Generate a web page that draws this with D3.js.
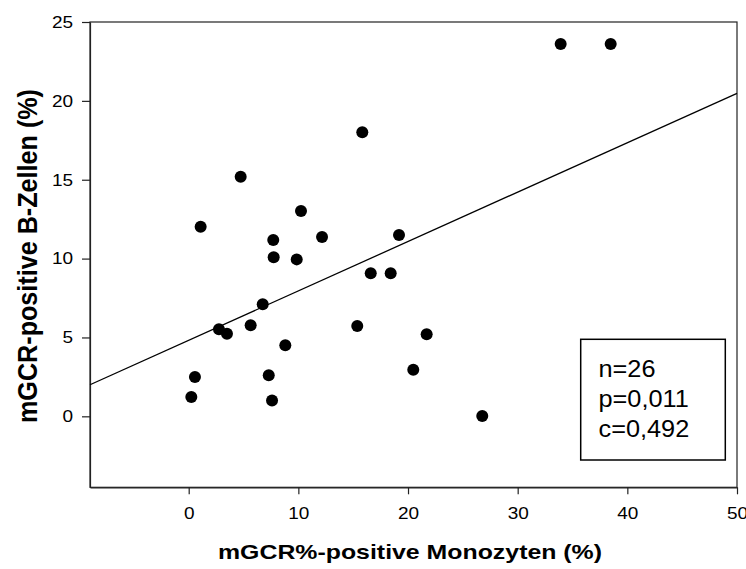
<!DOCTYPE html>
<html>
<head>
<meta charset="utf-8">
<script src="https://cdn.jsdelivr.net/npm/d3@7"></script>
<style>
  body { margin: 0; background: #fff; }
  text { font-family: Arial, "Liberation Sans", sans-serif; fill: #000; }
</style>
</head>
<body>
<svg id="chart"></svg>
<script>
// monocyte % (x) and B-cell % (y), one entry per patient
const monozyten = [4.74, 1.09, 10.24, 7.71, 12.16, 7.75, 9.85, 16.6, 18.42, 6.75,
                   2.76, 3.49, 5.65, 15.37, 8.81, 0.57, 0.24, 7.30, 7.60, 15.83,
                   19.18, 21.70, 20.48, 26.77, 33.92, 38.48];
const bZellen   = [15.19, 12.02, 13.02, 11.18, 11.37, 10.08, 9.95, 9.07, 9.07, 7.10,
                   5.52, 5.24, 5.77, 5.72, 4.50, 2.49, 1.22, 2.60, 1.01, 18.01,
                   11.49, 5.20, 2.95, 0.02, 23.60, 23.60];
const xTicks = [0, 10, 20, 30, 40, 50];
const yTicks = [0, 5, 10, 15, 20, 25];
const xDomain = [-9, 50];
const yDomain = [-4.5, 25];
// regression line y = a + b*x
const fitIntercept = 4.82;
const fitSlope = 0.3132;
const statLines = ['n=26', 'p=0,011', 'c=0,492'];

const chart = {
    width: 746,
    height: 569,
    padding: {left: 90, right: 9, top: 22, bottom: 81.7},
    xScale: null,
    yScale: null,

    // the original fonts are a bit wider than Arial
    stretch: (sel, k) => {
        sel.each(function () {
            const w = this.getComputedTextLength();
            d3.select(this).attr('textLength', w * k).attr('lengthAdjust', 'spacingAndGlyphs');
        });
    },

    drawAxis: (svg) => {
        const p = chart.padding;
        chart.xScale = d3.scaleLinear().domain(xDomain)
            .range([p.left, chart.width - p.right]);
        chart.yScale = d3.scaleLinear().domain(yDomain)
            .range([chart.height - p.bottom, p.top]);

        const gx = svg.append('g')
            .attr('transform', `translate(0, ${chart.height - p.bottom})`)
            .call(d3.axisBottom(chart.xScale).tickValues(xTicks)
                .tickSize(7).tickPadding(13).tickSizeOuter(0).tickFormat(d => d));
        const gy = svg.append('g')
            .attr('transform', `translate(${p.left}, 0)`)
            .call(d3.axisLeft(chart.yScale).tickValues(yTicks)
                .tickSize(8).tickPadding(9).tickSizeOuter(0).tickFormat(d => d));

        [gx, gy].forEach(g => {
            g.attr('font-family', null).attr('font-size', null);
            g.selectAll('path, line').attr('stroke', '#222').attr('stroke-width', 1.2);
            g.selectAll('text').attr('font-size', 16.5).attr('fill', '#000');
            chart.stretch(g.selectAll('text'), 1.15);
        });

        // box round the plot
        svg.append('rect')
            .attr('x', p.left)
            .attr('y', p.top)
            .attr('width', chart.width - p.left - p.right)
            .attr('height', chart.height - p.top - p.bottom)
            .attr('fill', 'none')
            .attr('stroke', '#222')
            .attr('stroke-width', 1.2);

        const xt = svg.append('text')
            .attr('x', 410)
            .attr('y', 559)
            .attr('text-anchor', 'middle')
            .attr('font-size', 21)
            .attr('font-weight', 'bold')
            .text('mGCR%-positive Monozyten (%)');
        xt.attr('textLength', 384).attr('lengthAdjust', 'spacingAndGlyphs');

        const yt = svg.append('text')
            .attr('transform', 'translate(36.5, 256) rotate(-90)')
            .attr('text-anchor', 'middle')
            .attr('font-size', 27)
            .attr('font-weight', 'bold')
            .text('mGCR-positive B-Zellen (%)');
        yt.attr('textLength', 334).attr('lengthAdjust', 'spacingAndGlyphs');
    },

    drawFit: (svg) => {
        const x0 = xDomain[0], x1 = xDomain[1];
        svg.append('line')
            .attr('x1', chart.xScale(x0))
            .attr('y1', chart.yScale(fitIntercept + fitSlope * x0))
            .attr('x2', chart.xScale(x1))
            .attr('y2', chart.yScale(fitIntercept + fitSlope * x1))
            .attr('stroke', '#000')
            .attr('stroke-width', 1.3);
    },

    drawPoints: (svg) => {
        const data = monozyten.map((x, i) => ({x: x, y: bZellen[i]}));
        svg.append('g')
            .selectAll('circle')
            .data(data)
            .join('circle')
            .attr('cx', d => chart.xScale(d.x))
            .attr('cy', d => chart.yScale(d.y))
            .attr('r', 6)
            .attr('fill', '#000');
    },

    drawStats: (svg) => {
        const g = svg.append('g');
        g.append('rect')
            .attr('x', 580.7)
            .attr('y', 339.3)
            .attr('width', 144.6)
            .attr('height', 120.7)
            .attr('fill', '#fff')
            .attr('stroke', '#000')
            .attr('stroke-width', 1.5);
        const t = g.selectAll('text.stat')
            .data(statLines)
            .join('text')
            .attr('class', 'stat')
            .attr('x', 598.5)
            .attr('y', (d, i) => 377 + i * 30)
            .attr('font-size', 23)
            .text(d => d);
        chart.stretch(t, 1.1);
    },

    drawMain: () => {
        const svg = d3.select('#chart')
            .attr('width', chart.width)
            .attr('height', chart.height);
        chart.drawAxis(svg);
        chart.drawFit(svg);
        chart.drawPoints(svg);
        chart.drawStats(svg);
    }
};

chart.drawMain();
</script>
</body>
</html>
